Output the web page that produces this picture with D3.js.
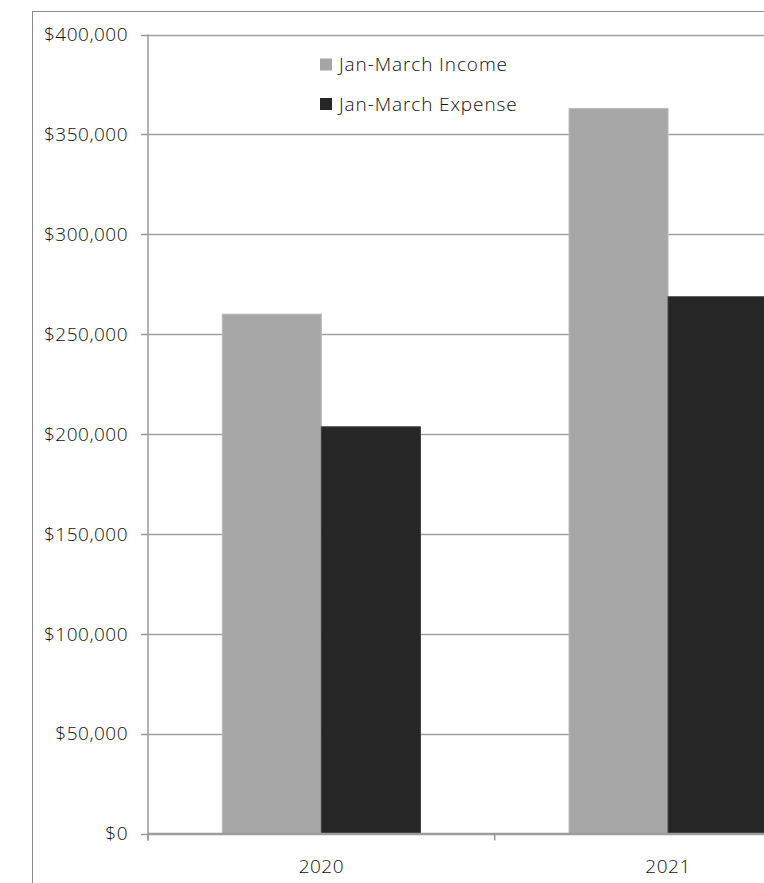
<!DOCTYPE html>
<html>
<head>
<meta charset="utf-8">
<script src="https://cdn.jsdelivr.net/npm/d3@7"></script>
<style>
    html, body { margin: 0; padding: 0; background: #fff; overflow: hidden; }
    svg text { font-family: "Open Sans", "Noto Sans", sans-serif; font-weight: 300; fill: #111; }
</style>
</head>
<body>
<svg class="main" width="764" height="883"></svg>
<script>
'use strict';

var years = ['2020', '2021'];
var seriesNames = ['Jan-March Income', 'Jan-March Expense'];
var incomeValues = [260000, 363000];
var expenseValues = [203600, 268700];
var yTicks = [0, 50000, 100000, 150000, 200000, 250000, 300000, 350000, 400000];
var seriesColors = ['#a6a6a6', '#262626'];

(function () {
    var svg = d3.select('svg.main');

    var plotLeft = 148, plotTop = 34.5, plotBottom = 833.5, plotRight = 841.4;

    // outer chart frame (runs past the window edges)
    svg.append('rect')
        .attr('x', 32.5)
        .attr('y', 11.5)
        .attr('width', 900)
        .attr('height', 1000)
        .attr('fill', 'none')
        .attr('stroke', '#8c8c8c')
        .attr('stroke-width', 1);

    var y = d3.scaleLinear()
        .domain([0, 400000])
        .range([plotBottom, plotTop]);

    var x = d3.scaleBand()
        .domain(years)
        .range([plotLeft, plotRight]);

    var xInner = d3.scaleBand()
        .domain(seriesNames)
        .range([0, x.bandwidth()])
        .paddingOuter(0.75);

    var fmt = function (v) {
        return '$' + d3.format(',')(v);
    };

    // gridlines
    svg.append('g')
        .attr('class', 'grid')
        .selectAll('line')
        .data(yTicks)
        .enter()
        .append('line')
        .attr('x1', plotLeft)
        .attr('x2', 900)
        .attr('y1', function (d) { return Math.round(y(d)) + 0.5; })
        .attr('y2', function (d) { return Math.round(y(d)) + 0.5; })
        .attr('stroke', '#a0a0a0')
        .attr('stroke-width', 1.5);

    // bars
    var rows = years.map(function (yr, i) {
        return { year: yr, values: [incomeValues[i], expenseValues[i]] };
    });

    var groups = svg.append('g')
        .attr('class', 'bars')
        .selectAll('g')
        .data(rows)
        .enter()
        .append('g')
        .attr('transform', function (d) { return 'translate(' + x(d.year) + ',0)'; });

    groups.selectAll('rect')
        .data(function (d) {
            return d.values.map(function (v, j) { return { name: seriesNames[j], value: v, idx: j }; });
        })
        .enter()
        .append('rect')
        .attr('x', function (d) { return xInner(d.name); })
        .attr('y', function (d) { return y(d.value); })
        .attr('width', xInner.bandwidth())
        .attr('height', function (d) { return plotBottom - y(d.value); })
        .attr('fill', function (d) { return seriesColors[d.idx]; })
        .attr('stroke', function (d) { return d.idx === 0 ? '#bdbdbd' : '#3a3a3a'; })
        .attr('stroke-width', 1);

    // y axis
    var yAxis = svg.append('g').attr('class', 'y-axis');

    yAxis.append('line')
        .attr('x1', plotLeft).attr('x2', plotLeft)
        .attr('y1', plotTop).attr('y2', plotBottom + 7)
        .attr('stroke', '#9a9a9a')
        .attr('stroke-width', 1.5);

    yAxis.selectAll('.tick')
        .data(yTicks)
        .enter()
        .append('line')
        .attr('class', 'tick')
        .attr('x1', plotLeft - 7)
        .attr('x2', plotLeft)
        .attr('y1', function (d) { return Math.round(y(d)) + 0.5; })
        .attr('y2', function (d) { return Math.round(y(d)) + 0.5; })
        .attr('stroke', '#9a9a9a')
        .attr('stroke-width', 1.5);

    yAxis.selectAll('text')
        .data(yTicks)
        .enter()
        .append('text')
        .attr('x', 128)
        .attr('y', function (d) { return y(d); })
        .attr('dy', '0.36em')
        .attr('text-anchor', 'end')
        .style('font-size', '19px')
        .style('letter-spacing', '0.5px')
        .text(fmt);

    // x axis
    var xAxis = svg.append('g').attr('class', 'x-axis');

    xAxis.append('line')
        .attr('x1', plotLeft).attr('x2', 900)
        .attr('y1', plotBottom).attr('y2', plotBottom)
        .attr('stroke', '#9a9a9a')
        .attr('stroke-width', 1.5);

    xAxis.selectAll('.tick')
        .data(years.concat(['end']))
        .enter()
        .append('line')
        .attr('class', 'tick')
        .attr('x1', function (d, i) { return plotLeft + i * x.step(); })
        .attr('x2', function (d, i) { return plotLeft + i * x.step(); })
        .attr('y1', plotBottom)
        .attr('y2', plotBottom + 7)
        .attr('stroke', '#9a9a9a')
        .attr('stroke-width', 1.5);

    xAxis.selectAll('text')
        .data(years)
        .enter()
        .append('text')
        .attr('x', function (d) { return x(d) + x.bandwidth() / 2; })
        .attr('y', 873)
        .attr('text-anchor', 'middle')
        .style('font-size', '19px')
        .style('letter-spacing', '0.5px')
        .text(function (d) { return d; });

    // legend
    var legend = svg.append('g')
        .attr('class', 'legend')
        .selectAll('g')
        .data(seriesNames)
        .enter()
        .append('g')
        .attr('transform', function (d, i) { return 'translate(320,' + (64.5 + i * 39.5) + ')'; });

    legend.append('rect')
        .attr('x', 0)
        .attr('y', -6)
        .attr('width', 12)
        .attr('height', 12)
        .attr('fill', function (d, i) { return seriesColors[i]; });

    legend.append('text')
        .attr('x', 19)
        .attr('y', 0)
        .attr('dy', '0.36em')
        .style('font-size', '19px')
        .style('letter-spacing', '0.9px')
        .text(function (d) { return d; });
})();
</script>
</body>
</html>
